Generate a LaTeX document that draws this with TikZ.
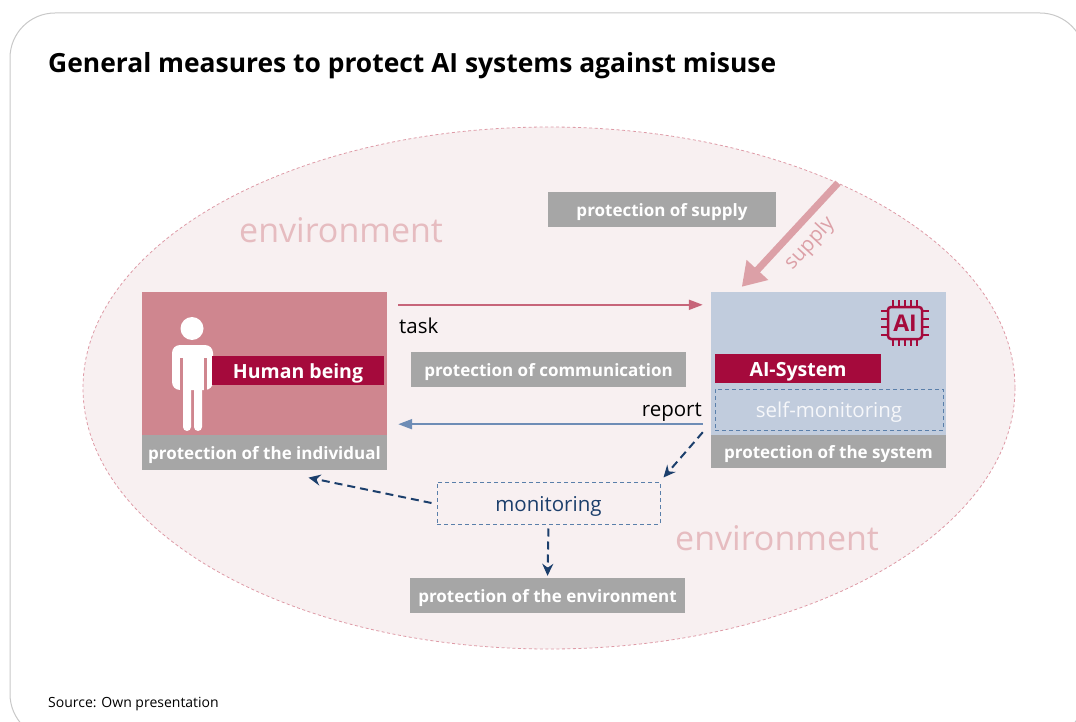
\documentclass[tikz,border=0pt]{standalone}
\usepackage{fontspec}
\setmainfont{Open Sans}
\usepackage{xcolor}
\usetikzlibrary{arrows.meta, positioning}
\definecolor{humanpink}{HTML}{CF868F}
\definecolor{crimson}{HTML}{A50A3C}
\definecolor{aiblue}{HTML}{C1CCDD}
\definecolor{protgrey}{HTML}{A6A6A6}
\definecolor{envfill}{HTML}{F8F0F1}
\definecolor{envline}{HTML}{DE9AA6}
\definecolor{envtext}{HTML}{E6BCC0}
\definecolor{supplypink}{HTML}{DCA0A7}
\definecolor{taskred}{HTML}{C7657A}
\definecolor{reportblue}{HTML}{6E8DB6}
\definecolor{navy}{HTML}{1C3F6C}
\definecolor{selfline}{HTML}{5A7FAA}
\definecolor{framegrey}{HTML}{C8C8C8}
\tikzset{>=latex,
  prot/.style={fill=protgrey, text=white, font=\bfseries\fontsize{17}{20}\selectfont, minimum height=35pt, inner sep=0pt, text height=14pt, text depth=0pt},
  tagbox/.style={fill=crimson, text=white, font=\bfseries\fontsize{19.5}{22}\selectfont, minimum height=29pt, inner sep=0pt, text height=15pt, text depth=0pt},
  dashbox/.style={draw=selfline, dash pattern=on 4pt off 3pt, line width=1pt, font=\fontsize{20.5}{24}\selectfont, inner sep=0pt, text height=16pt, text depth=0pt},
  envlabel/.style={text=envtext, font=\fontsize{34}{40}\selectfont, anchor=base west, inner sep=0pt},
  flowtext/.style={text=black, font=\fontsize{20.5}{24}\selectfont, inner sep=0pt},
  taskarr/.style={draw=taskred, line width=2pt, -{Triangle[length=14pt, width=10pt]}},
  reportarr/.style={draw=reportblue, line width=2pt, -{Triangle[length=14pt, width=10pt]}},
  supplyarr/.style={draw=supplypink, line width=7pt, -{Triangle[length=23pt, width=28pt]}},
  watcharr/.style={draw=navy, line width=2pt, dash pattern=on 8pt off 5pt, -{Stealth[length=12pt, width=11pt]}}
}
\begin{document}
\begin{tikzpicture}[x=1pt, y=-1pt]
\useasboundingbox (0,0) rectangle (1076,722);
% frame and environment
\draw[framegrey, line width=1pt, rounded corners=45pt] (10,13) rectangle (1085,739);
\node[anchor=base west, font=\bfseries\fontsize{26.4}{30}\selectfont, inner sep=0pt] (title) at (48,73) {General measures to protect AI systems against misuse};
\draw[envline, fill=envfill, dash pattern=on 3pt off 2.5pt, line width=0.8pt] (549,388) ellipse [x radius=466, y radius=261];
\node[envlabel] (envtop) at (239,242) {environment};
\node[envlabel] (envbottom) at (675,550) {environment};

% human being
\node[fill=humanpink, minimum width=245pt, minimum height=143pt, inner sep=0pt] (human) at (264.5,363.5) {};
\node[prot, minimum width=245pt, below=0pt of human] (protind) {protection of the individual};
\fill[white] (192,328.5) circle [radius=11.5];
\fill[white, rounded corners=8pt] (172,390) -- (172,345) -- (213,345) -- (213,390) -- cycle;
\draw[humanpink, line width=2.5pt] (181.5,358) -- (181.5,392) (205.5,358) -- (205.5,392);
\fill[white, rounded corners=4pt] (183,384) rectangle (191,431);
\fill[white, rounded corners=4pt] (194,384) rectangle (202,431);
\node[tagbox, minimum width=172pt] (humantag) at (298,370.5) {Human being};

% AI system
\node[fill=aiblue, minimum width=235pt, minimum height=143pt, inner sep=0pt] (ai) at (828.5,363.5) {};
\node[prot, minimum width=235pt, minimum height=33pt, below=0pt of ai] (protsys) {protection of the system};
\draw[crimson, line width=2.5pt, rounded corners=3pt] (888,307) rectangle (922,339);
\foreach \p in {-12,-6,0,6,12} {
  \draw[crimson, line width=1.8pt] ({905+\p},300) -- ({905+\p},307) ({905+\p},339) -- ({905+\p},346);
}
\foreach \p in {-12,-4,4,12} {
  \draw[crimson, line width=1.8pt] (881,{323+\p}) -- (888,{323+\p}) (922,{323+\p}) -- (929,{323+\p});
}
\node[text=crimson, font=\bfseries\fontsize{23}{23}\selectfont, inner sep=0pt] (chip) at (905,323.5) {AI};
\node[tagbox, minimum width=166pt] (aitag) at (798,368.5) {AI-System};
\node[dashbox, text=white!85!aiblue, minimum width=228pt, minimum height=41pt] (selfmon) at (829,409.5) {self-monitoring};

% protection measures
\node[prot, minimum width=228pt] (protsupply) at (662,209.5) {protection of supply};
\node[prot, minimum width=275pt] (protcomm) at (548.5,369.5) {protection of communication};
\node[dashbox, text=navy, minimum width=223pt, minimum height=42pt] (monitor) at (548.5,503) {monitoring};
\node[prot, minimum width=275pt] (protenv) at (547.5,595.5) {protection of the environment};

% flows
\coordinate (supplysrc) at (838,183);
\draw[supplyarr] (supplysrc) -- ([shift={(31,-5)}]ai.north west)
  node[pos=0.45, sloped, below=7pt, inner sep=0pt, text=supplypink, font=\fontsize{20.5}{24}\selectfont] (supplytext) {supply};
\draw[taskarr] ([shift={(11,13)}]human.north east) -- ([shift={(-8,13)}]ai.north west)
  node[flowtext, at start, anchor=base west, yshift=-29pt] (tasktext) {task};
\draw[reportarr] ([shift={(-8,-11)}]ai.south west) -- ([shift={(11,-11)}]human.south east)
  node[flowtext, at start, anchor=base east, yshift=8pt] (reporttext) {report};
\draw[watcharr] ([shift={(-8,-3)}]ai.south west) -- ([shift={(3,-4)}]monitor.north east);
\draw[watcharr] ([xshift=-5pt]monitor.west) -- ([shift={(44,7)}]protind.south);
\draw[watcharr, shorten <=4pt, shorten >=2pt] (monitor.south) -- (protenv.north);

\node[anchor=base west, font=\fontsize{14}{16}\selectfont, inner sep=0pt] (source) at (48,707) {Source: Own presentation};
\end{tikzpicture}
\end{document}
